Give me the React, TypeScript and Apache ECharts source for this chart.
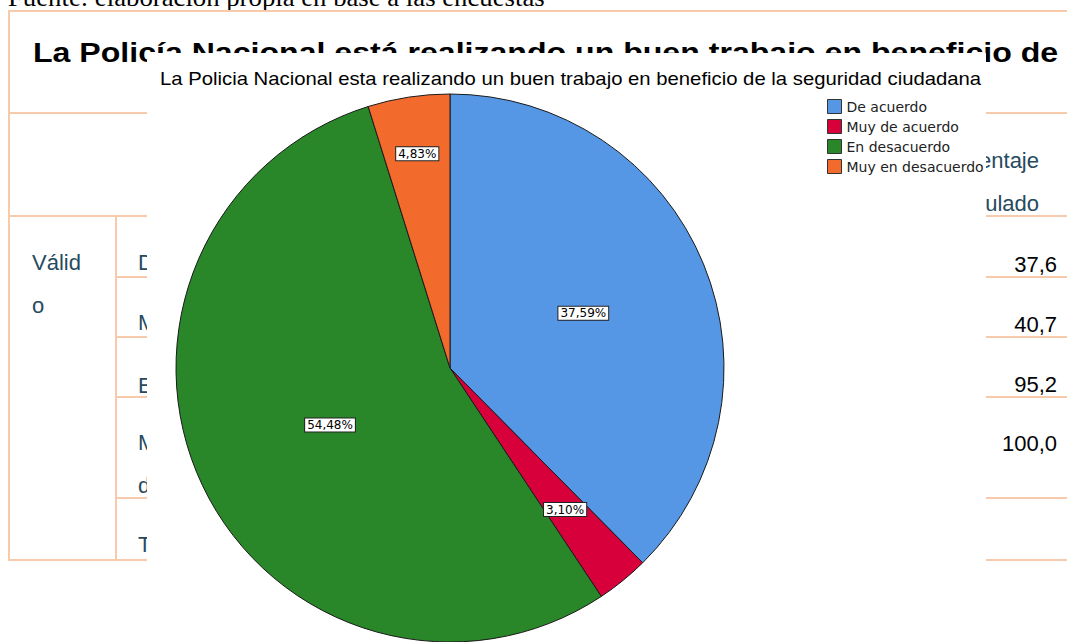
import React, { useEffect, useRef } from "react";
import * as echarts from "echarts";

// ---- data ----
const categories = ["De acuerdo", "Muy de acuerdo", "En desacuerdo", "Muy en desacuerdo"];
const counts = [109, 9, 158, 14];
const sliceColors = ["#5596E5", "#D7003A", "#2A8729", "#F36B2C"];
const chartTitle =
  "La Policia Nacional esta realizando un buen trabajo en beneficio de la seguridad ciudadana";
const tableTitle = "La Policía Nacional está realizando un buen trabajo en beneficio de";
const sourceNote = "Fuente: elaboración propia en base a las encuestas";
const rowGroupLabel = ["Válid", "o"];
const rowLabels = ["De acuerdo", "Muy de acuerdo", "En desacuerdo", "Muy en", "desacuerdo", "Total"];
const headerLabels = ["Porcentaje", "acumulado"];
const cumulativeLabels = ["37,6", "40,7", "95,2", "100,0"];

function fitScale(text: string, font: string, target: number): number {
  const ctx = document.createElement("canvas").getContext("2d");
  if (!ctx) return 1;
  ctx.font = font;
  const w = ctx.measureText(text).width;
  return w > 0 ? target / w : 1;
}

export default function App() {
  const ref = useRef<HTMLDivElement>(null);

  useEffect(() => {
    if (!ref.current) return;
    const chart = echarts.init(ref.current, null, { renderer: "svg" });

    const lineColor = "#F7CAAC";
    const labelColor = "#264A60";
    const valueColor = "#010205";
    const R = 274;
    const total = counts.reduce((a, b) => a + b, 0);
    const labelRadiusFrac = [0.515, 0.655, 0.474, 0.78];

    const hLine = (x1: number, x2: number, y: number) => ({
      type: "line",
      z: 0,
      shape: { x1, y1: y, x2, y2: y },
      style: { stroke: lineColor, lineWidth: 2 },
    });
    const vLine = (x: number, y1: number, y2: number) => ({
      type: "line",
      z: 0,
      shape: { x1: x, y1, x2: x, y2 },
      style: { stroke: lineColor, lineWidth: 2 },
    });
    const txt = (
      text: string,
      x: number,
      y: number,
      opts: { size: number; color: string; align?: string; bold?: boolean; family?: string; scaleX?: number; z?: number }
    ) => ({
      type: "text",
      z: opts.z ?? 0,
      x,
      y,
      scaleX: opts.scaleX ?? 1,
      style: {
        text,
        x: 0,
        y: 0,
        fill: opts.color,
        font: `${opts.bold ? "bold " : ""}${opts.size}px ${opts.family ?? "'Liberation Sans', Arial, sans-serif"}`,
        align: opts.align ?? "left",
        verticalAlign: "middle",
      },
    });

    const bigTitleFont = "bold 28px 'Liberation Sans'";
    const bigTitleScale = fitScale(tableTitle, bigTitleFont, 1025);
    const sourceFont = "26px 'Liberation Serif'";
    const sourceScale = fitScale(sourceNote, sourceFont, 537);
    const chartTitleFont = "18px 'Liberation Sans'";
    const chartTitleScale = fitScale(chartTitle, chartTitleFont, 822);

    const rowLabelY = [262, 322, 385, 442, 485, 544];
    const valueY = [264, 324, 384, 443];

    const graphics: any[] = [
      txt(sourceNote, 8, -2, { size: 26, color: "#000", family: "'Liberation Serif', serif", scaleX: sourceScale }),
      hLine(8, 1067, 11),
      vLine(9, 11, 561),
      txt(tableTitle, 33, 52, { size: 28, color: "#000", bold: true, scaleX: bigTitleScale }),
      hLine(8, 1067, 113),
      hLine(8, 1067, 216),
      vLine(116, 216, 561),
      hLine(116, 1067, 277),
      hLine(116, 1067, 337),
      hLine(116, 1067, 397),
      hLine(116, 1067, 498),
      hLine(8, 1067, 560),
      txt(rowGroupLabel[0], 32, 262, { size: 22, color: labelColor }),
      txt(rowGroupLabel[1], 32, 305, { size: 22, color: labelColor }),
      ...rowLabels.map((t, i) => txt(t, 138, rowLabelY[i], { size: 22, color: labelColor })),
      txt(headerLabels[0], 1039, 160, { size: 22, color: labelColor, align: "right" }),
      txt(headerLabels[1], 1039, 203, { size: 22, color: labelColor, align: "right" }),
      ...cumulativeLabels.map((t, i) => txt(t, 1057, valueY[i], { size: 22, color: valueColor, align: "right" })),
      {
        type: "rect",
        z: 1,
        shape: { x: 147, y: 53, width: 839, height: 600 },
        style: { fill: "#ffffff" },
      },
      txt(chartTitle, 160, 78.5, { size: 18, color: "#000", scaleX: chartTitleScale, z: 3 }),
    ];

    const option: any = {
      animation: false,
      backgroundColor: "#ffffff",
      graphic: { elements: graphics },
      legend: {
        orient: "vertical",
        left: 827,
        top: 99,
        padding: 0,
        itemWidth: 14,
        itemHeight: 14,
        itemGap: 5,
        icon: "rect",
        z: 5,
        itemStyle: { borderColor: "#333", borderWidth: 1 },
        textStyle: { fontFamily: "'DejaVu Sans', sans-serif", fontSize: 14, color: "#222" },
        data: categories,
      },
      series: [
        {
          type: "pie",
          z: 4,
          center: [450, 368],
          radius: R,
          startAngle: 90,
          clockwise: true,
          avoidLabelOverlap: false,
          silent: true,
          itemStyle: { borderColor: "#1a1a1a", borderWidth: 1 },
          label: {
            show: true,
            position: "inside",
            formatter: (p: any) => p.percent.toFixed(2).replace(".", ",") + "%",
            fontFamily: "'DejaVu Sans', sans-serif",
            fontSize: 12,
            color: "#000",
            backgroundColor: "#ffffff",
            borderColor: "#222",
            borderWidth: 1,
            padding: [1, 2, 0, 2],
          },
          labelLine: { show: false },
          labelLayout: (p: any) => {
            const i = p.dataIndex;
            let before = 0;
            for (let k = 0; k < i; k++) before += counts[k];
            const mid = ((before + counts[i] / 2) / total) * 2 * Math.PI;
            const delta = (labelRadiusFrac[i] - 0.5) * R;
            return { dx: Math.sin(mid) * delta, dy: -Math.cos(mid) * delta };
          },
          data: categories.map((name, i) => ({
            name,
            value: counts[i],
            itemStyle: { color: sliceColors[i] },
          })),
        },
      ],
    };

    chart.setOption(option);
    return () => chart.dispose();
  }, []);

  return (
    <div
      ref={ref}
      style={{ position: "absolute", left: 0, top: 0, width: 1067, height: 642, background: "#fff" }}
    />
  );
}
